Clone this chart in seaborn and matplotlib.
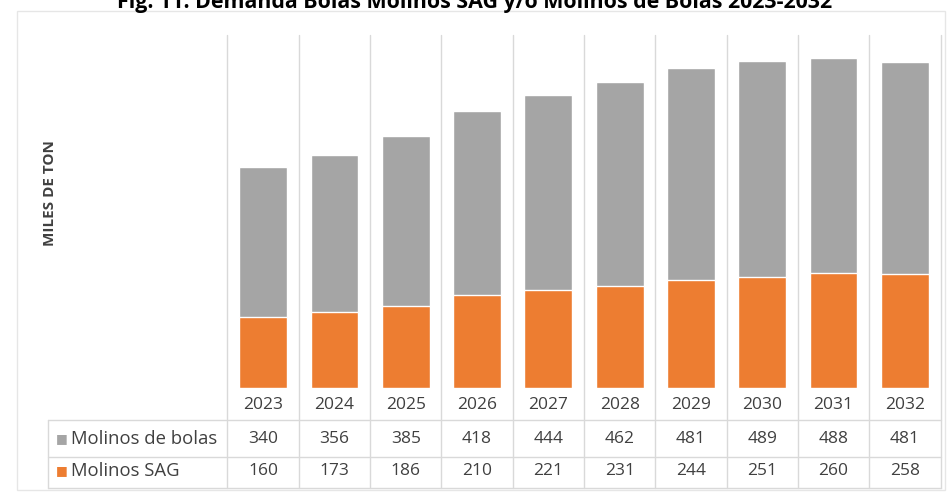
import matplotlib
matplotlib.use("Agg")
import matplotlib.pyplot as plt
import matplotlib.transforms as mtransforms
import seaborn as sns
import pandas as pd

# Demand data (thousand tonnes)
years = ["2023", "2024", "2025", "2026", "2027", "2028", "2029", "2030", "2031", "2032"]
molinos_bolas = [340, 356, 385, 418, 444, 462, 481, 489, 488, 481]
molinos_sag = [160, 173, 186, 210, 221, 231, 244, 251, 260, 258]

series_names = ["Molinos de bolas", "Molinos SAG"]
series_values = [molinos_bolas, molinos_sag]
series_colors = ["#a5a5a5", "#ed7d31"]

title = "Fig. 11: Demanda Bolas Molinos SAG y/o Molinos de Bolas 2023-2032"
ylabel = "MILES DE TON"

df = pd.DataFrame({
    "year": years,
    "bolas": molinos_bolas,
    "sag": molinos_sag,
})
df["total"] = df["bolas"] + df["sag"]

sns.set_style("white")
plt.rcParams["font.family"] = ["Open Sans", "DejaVu Sans"]

W, H = 951, 494
fig = plt.figure(figsize=(W / 100, H / 100), dpi=100)
fig.patch.set_facecolor("white")


def fx(px):
    return px / W


def fy(py):
    return 1 - py / H


# plot area
left_px, right_px, top_px, base_px = 227.5, 940.5, 35, 388
ax = fig.add_axes([fx(left_px), fy(base_px), fx(right_px - left_px), (base_px - top_px) / H])

# stacked bars: total in grey, SAG share in orange on top of it
sns.barplot(data=df, x="year", y="total", color=series_colors[0], width=0.67,
            saturation=1, ax=ax, zorder=3)
sns.barplot(data=df, x="year", y="sag", color=series_colors[1], width=0.67,
            saturation=1, ax=ax, zorder=4)

ax.set_ylim(0, 800)
ax.set_xlim(-0.5, len(years) - 0.5)
ax.set_xlabel("")
ax.set_ylabel("")
ax.set_xticks([])
ax.set_yticks([])
for s in ax.spines.values():
    s.set_visible(False)

grid_c = "#d9d9d9"
text_c = "#404040"
trans = mtransforms.blended_transform_factory(ax.transData, ax.transAxes)


def ay(py):
    return (base_px - py) / (base_px - top_px)


col_w = (right_px - left_px) / len(years)


def dx(px):
    return (px - left_px) / col_w - 0.5


# data table: vertical column borders
table_bottom = ay(488)
for i in range(len(years) + 1):
    ax.plot([i - 0.5, i - 0.5], [1.0, table_bottom], color=grid_c, lw=1,
            transform=trans, clip_on=False, zorder=1)

# horizontal rules of the table
for py in (420, 457, 488):
    ax.plot([dx(48), len(years) - 0.5], [ay(py), ay(py)], color=grid_c, lw=1,
            transform=trans, clip_on=False, zorder=1)
ax.plot([dx(48), dx(48)], [ay(420), ay(488)], color=grid_c, lw=1,
        transform=trans, clip_on=False, zorder=1)

fs = 12.5
# year row
for i, yr in enumerate(years):
    ax.text(i, ay(405), yr, ha="center", va="center", fontsize=fs, color=text_c,
            transform=trans)

# value rows with legend keys
row_centers = [439, 471]
for name, vals, col, rc in zip(series_names, series_values, series_colors, row_centers):
    ax.text(dx(56), ay(rc), "\u25A0", ha="left", va="center", fontsize=9,
            color=col, transform=trans, family="DejaVu Sans")
    ax.text(dx(71), ay(rc), name, ha="left", va="center", fontsize=13.3,
            color=text_c, transform=trans)
    for i, v in enumerate(vals):
        ax.text(i, ay(rc), str(v), ha="center", va="center", fontsize=fs,
                color=text_c, transform=trans)

# axis title
fig.text(fx(50), fy(193), ylabel, rotation=90, ha="center", va="center",
         fontsize=11, fontweight="bold", color=text_c)

# outer chart frame
frame = plt.Rectangle((fx(17), fy(490)), fx(945 - 17), (490 - 11) / H,
                      transform=fig.transFigure, fill=False, edgecolor="#e6e6e6",
                      lw=1, zorder=0)
fig.add_artist(frame)

# figure caption (partly above the page edge)
fig.text(fx(475), fy(8), title, ha="center", va="baseline", fontsize=15.4,
         fontweight="bold", color="black")

fig.savefig("out.png", dpi=100, facecolor="white")
